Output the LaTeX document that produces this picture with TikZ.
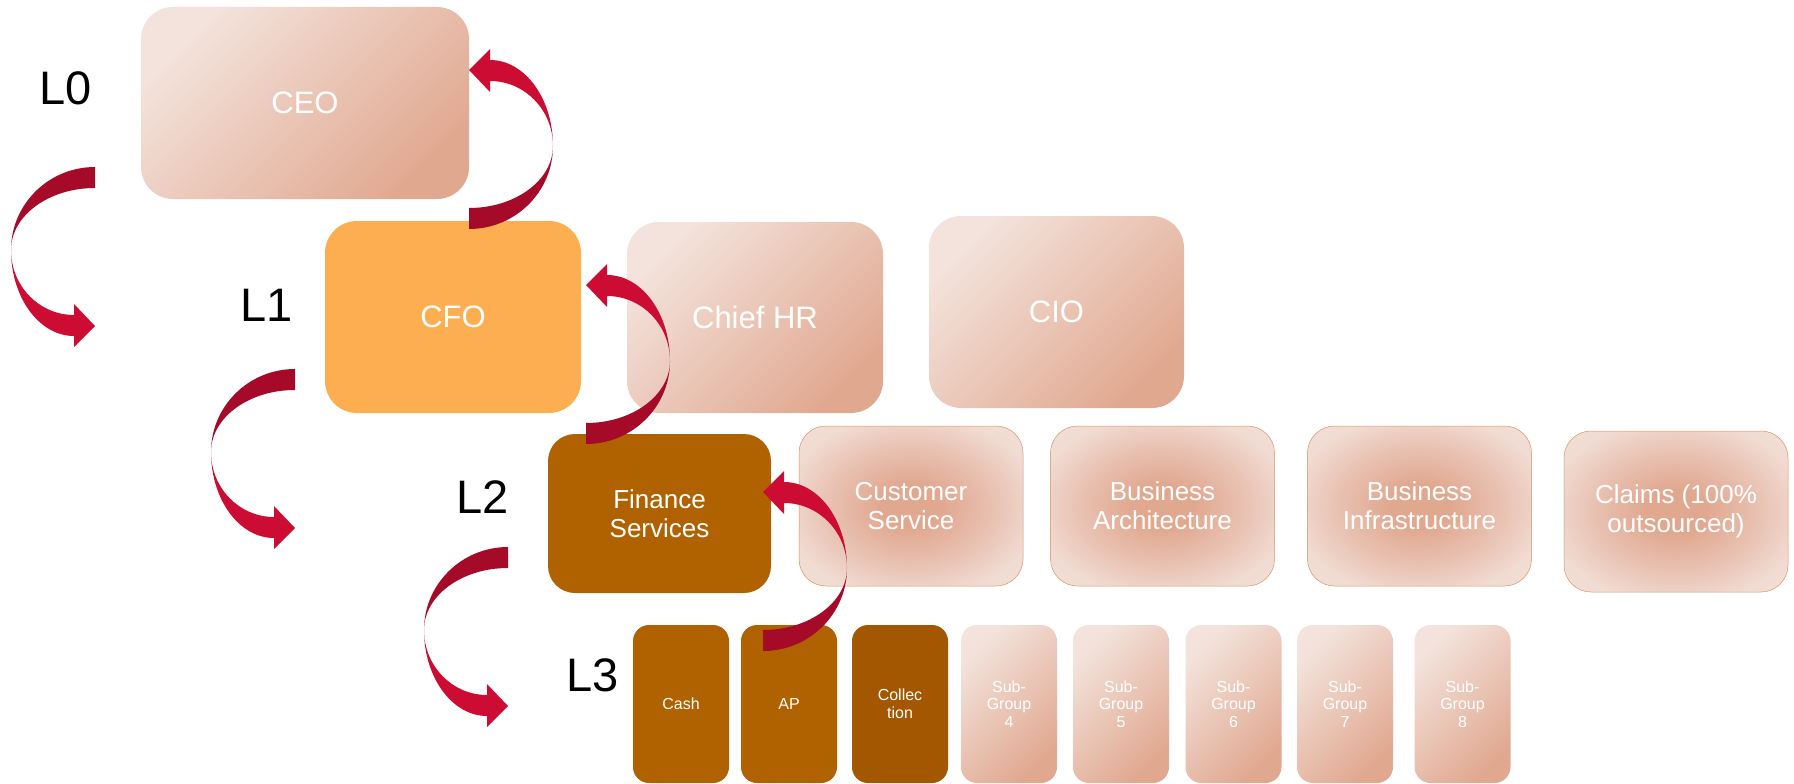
\documentclass[tikz,border=0pt]{standalone}
\usepackage{fontspec}
\setmainfont{Liberation Sans}

\definecolor{peachlight}{RGB}{243,227,220}
\definecolor{peachdark}{RGB}{225,168,144}
\definecolor{peachmid}{RGB}{233,195,180}
\definecolor{peachpale}{RGB}{241,220,211}
\definecolor{cfoorange}{RGB}{253,174,80}
\definecolor{fsbrown}{RGB}{177,98,0}
\definecolor{colbrown}{RGB}{163,87,0}
\definecolor{arrdark}{RGB}{165,10,40}
\definecolor{arrbright}{RGB}{204,12,51}
\definecolor{rimline}{RGB}{214,150,100}

% soft glow: dark centre fading to pale edges
\pgfdeclareradialshading{peachglow}{\pgfpoint{0bp}{0bp}}{%
  color(0bp)=(peachdark); color(7bp)=(peachdark); color(19bp)=(peachmid);
  color(29bp)=(peachpale); color(50bp)=(peachlight)}

\tikzset{
  base/.style={rectangle, inner sep=0pt, align=center, text=white},
  bigbox/.style={base, rounded corners=32pt, minimum width=256pt, minimum height=192pt,
    font=\fontsize{31}{36}\selectfont},
  midbox/.style={base, rounded corners=27pt, minimum width=224pt, minimum height=160pt,
    font=\fontsize{26}{29}\selectfont},
  smallbox/.style={base, rounded corners=16pt, minimum width=96pt, minimum height=158pt,
    font=\fontsize{16}{17.5}\selectfont},
  peachlin/.style={top color=peachlight, bottom color=peachdark, shading angle=45},
  peachrad/.style={shade, shading=peachglow, draw=rimline, line width=0.5pt},
  level/.style={text=black, inner sep=0pt, font=\fontsize{47}{50}\selectfont},
  % ribbon-like curved arrow: origin at the outer corner of its tail,
  % sweeping left and down to a head that points right
  curvarrow/.pic={
    \fill[arrdark] (0,0) .. controls (-46.4,0) and (-84,37.2) .. (-84,83)
      .. controls (-84,48.8) and (-46.4,21) .. (0,21) -- cycle;
    \fill[arrbright] (-84,83) .. controls (-84,130.5) and (-55.8,169) .. (-21,169)
      -- (-21,180) -- (0,159) -- (-21,137) -- (-21,148)
      .. controls (-55.8,148) and (-84,118.9) .. (-84,83) -- cycle;
  }
}

\begin{document}
\begin{tikzpicture}[x=1pt, y=-1pt]
\useasboundingbox (0,0) rectangle (1794,784);

% level 0 and 1
\node[bigbox, peachlin, minimum width=328pt] (ceo) at (305,103) {CEO};
\node[bigbox, fill=cfoorange] (cfo) at (453,317) {CFO};
\node[bigbox, peachlin, minimum height=191pt] (chr) at (755,317.5) {Chief HR};
\node[bigbox, peachlin, minimum width=255pt] (cio) at (1056.5,312) {CIO};

% level 2
\node[midbox, fill=fsbrown, minimum width=223pt, minimum height=159pt] (fin) at (659.5,513.5) {Finance\\Services};
\node[midbox, peachrad] (cust) at (911,506) {Customer\\Service};
\node[midbox, peachrad] (barch) at (1162.5,506) {Business\\Architecture};
\node[midbox, peachrad] (binfra) at (1419.5,506) {Business\\Infrastructure};
\node[midbox, peachrad, minimum height=161pt] (claims) at (1676,511.5) {Claims (100\%\\outsourced)};

% level 3
\node[smallbox, fill=fsbrown] (cash) at (681,704) {Cash};
\node[smallbox, fill=fsbrown] (ap) at (789,704) {AP};
\node[smallbox, fill=colbrown] (coll) at (900,704) {Collec\\tion};
\node[smallbox, peachlin] (sg4) at (1009,704) {Sub-\\Group\\4};
\node[smallbox, peachlin] (sg5) at (1121,704) {Sub-\\Group\\5};
\node[smallbox, peachlin] (sg6) at (1233.5,704) {Sub-\\Group\\6};
\node[smallbox, peachlin] (sg7) at (1345,704) {Sub-\\Group\\7};
\node[smallbox, peachlin] (sg8) at (1462.5,704) {Sub-\\Group\\8};

% level labels
\node[level] (l0) at (66,88) {L0};
\node[level] (l1) at (267,305) {L1};
\node[level] (l2) at (483,497) {L2};
\node[level] (l3) at (593,675) {L3};

% downward arrows on the left
\pic (down0) at (95,167) {curvarrow};
\pic (down1) at (295,369) {curvarrow};
\pic (down2) at (508,547) {curvarrow};

% upward arrows back to the parent boxes
\pic[rotate=180] (up1) at (469,229) {curvarrow};
\pic[rotate=180] (up2) at (586,444) {curvarrow};
\pic[rotate=180] (up3) at (763,651) {curvarrow};
\end{tikzpicture}
\end{document}
